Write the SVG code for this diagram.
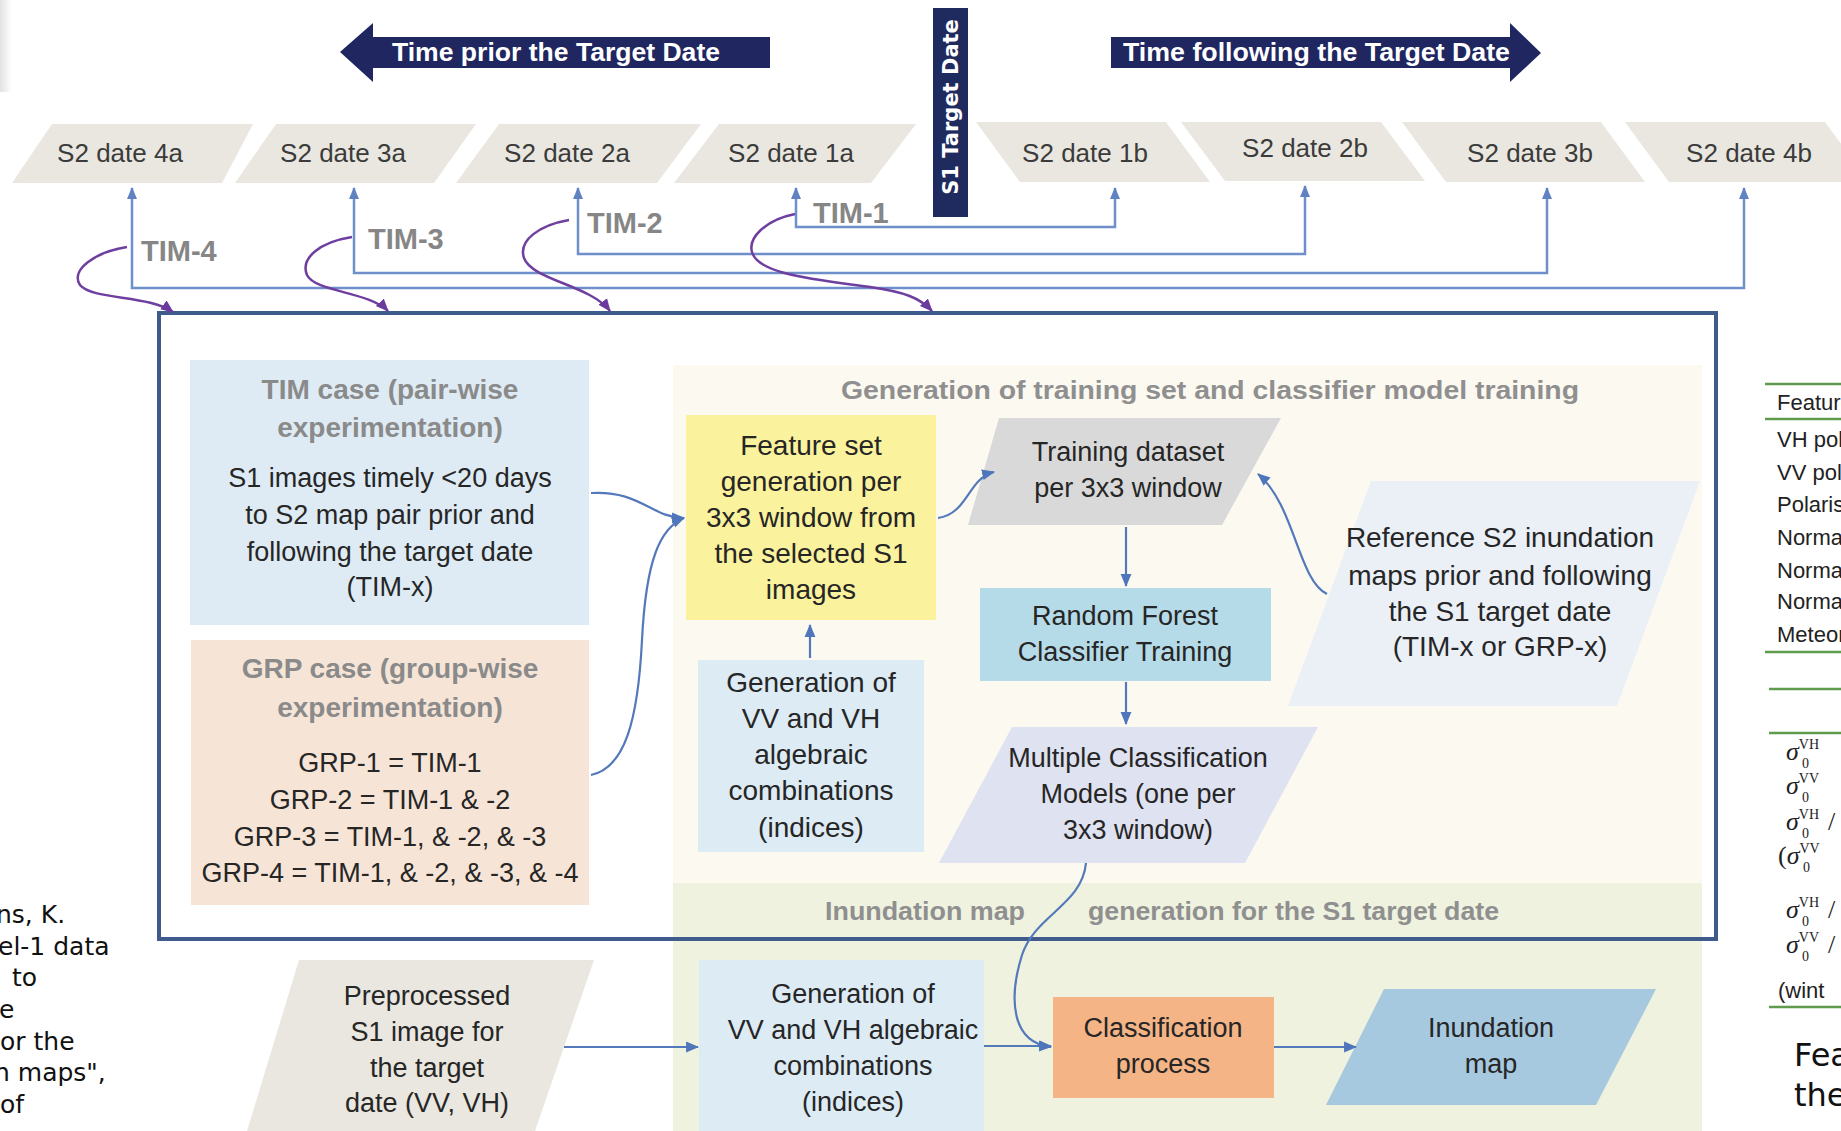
<svg xmlns="http://www.w3.org/2000/svg" width="1841" height="1131" viewBox="0 0 1841 1131">
<defs>
<style>
text{font-family:"Liberation Sans",Arial,sans-serif}
.s2{font-size:26px;fill:#3b3b3b;text-anchor:middle}
.tim{font-size:29px;font-weight:bold;fill:#868686}
.hd{font-size:28px;font-weight:bold;fill:#8a8a8a;text-anchor:middle}
.bd{font-size:27px;fill:#262626;text-anchor:middle}
.b28{font-size:28px}
.ar{font-size:26.5px;font-weight:bold;fill:#ffffff}
.rl{font-size:26.5px;font-weight:bold;fill:#8f8f8f}
.lt{font-family:"DejaVu Sans",Verdana,sans-serif;font-size:25px;fill:#111111}
.tb{font-size:22px;fill:#222222}
.sg{font-family:"Liberation Serif","Times New Roman",serif;font-size:26px;font-style:italic;fill:#222222}
.sp{font-size:14px;font-style:normal}
.nr{font-style:normal}
.br{fill:none;stroke:#6e8fca;stroke-width:2.5}
.pu{fill:none;stroke:#6f3f9f;stroke-width:2.5}
.fl{fill:none;stroke:#5479bb;stroke-width:2.2}
.gl{stroke:#5e9b4c;stroke-width:2.5}
</style>
<marker id="mB" markerUnits="userSpaceOnUse" markerWidth="12" markerHeight="12" viewBox="0 0 12 12" refX="11" refY="6" orient="auto-start-reverse"><path d="M0,1 L12,6 L0,11 z" fill="#5f82c2"/></marker>
<marker id="mP" markerUnits="userSpaceOnUse" markerWidth="13" markerHeight="13" viewBox="0 0 12 12" refX="11" refY="6" orient="auto"><path d="M0,1 L12,6 L0,11 z" fill="#6a3a9c"/></marker>
<marker id="mF" markerUnits="userSpaceOnUse" markerWidth="13" markerHeight="13" viewBox="0 0 12 12" refX="11" refY="6" orient="auto"><path d="M0,1 L12,6 L0,11 z" fill="#4f76bb"/></marker>
<linearGradient id="shade" x1="0" y1="0" x2="1" y2="0"><stop offset="0" stop-color="#e2e2e2"/><stop offset="1" stop-color="#ffffff"/></linearGradient>
</defs>
<rect width="1841" height="1131" fill="#ffffff"/>
<rect x="0" y="0" width="12" height="92" fill="url(#shade)"/>

<!-- background regions -->
<g id="region-training">
<rect x="673" y="365" width="1029" height="518" fill="#fcf9f1"/>
<text class="rl" x="841" y="399" textLength="738" lengthAdjust="spacingAndGlyphs">Generation of training set and classifier model training</text>
</g>
<g id="region-inundation">
<rect x="673" y="883" width="1029" height="248" fill="#eef2df"/>
<text class="rl" x="825" y="920" textLength="200" lengthAdjust="spacingAndGlyphs">Inundation  map</text>
<text class="rl" x="1088" y="920" textLength="411" lengthAdjust="spacingAndGlyphs">generation for the S1 target date</text>
</g>

<!-- time arrows -->
<g id="arrow-prior">
<polygon points="340,52 373,23 373,37 770,37 770,68 373,68 373,82" fill="#1f2660"/>
<text class="ar" x="392" y="61" textLength="328" lengthAdjust="spacingAndGlyphs">Time prior the Target Date</text>
</g>
<g id="arrow-following">
<polygon points="1111,37 1510,37 1510,23 1541,53 1510,82 1510,68 1111,68" fill="#1f2660"/>
<text class="ar" x="1123" y="61" textLength="387" lengthAdjust="spacingAndGlyphs">Time following the Target Date</text>
</g>
<g id="s1-target-date">
<rect x="933" y="8" width="35" height="209" fill="#1f2a5e"/>
<text transform="translate(958,107) rotate(-90)" text-anchor="middle" style="font-family:'DejaVu Sans',Verdana,sans-serif;font-size:21px;font-weight:bold;fill:#ffffff">S1 Target Date</text>
</g>

<!-- S2 dates -->
<g id="s2-4a"><polygon points="52,124 253,124 222,183 12,183" fill="#e9e7df"/><text class="s2" x="120" y="162">S2 date 4a</text></g>
<g id="s2-3a"><polygon points="276,124 476,124 434,183 235,183" fill="#e9e7df"/><text class="s2" x="343" y="162">S2 date 3a</text></g>
<g id="s2-2a"><polygon points="499,124 701,124 657,183 456,183" fill="#e9e7df"/><text class="s2" x="567" y="162">S2 date 2a</text></g>
<g id="s2-1a"><polygon points="719,124 916,124 871,183 674,183" fill="#e9e7df"/><text class="s2" x="791" y="162">S2 date 1a</text></g>
<g id="s2-1b"><polygon points="976,122 1166,122 1210,182 1020,182" fill="#e9e7df"/><text class="s2" x="1085" y="162">S2 date 1b</text></g>
<g id="s2-2b"><polygon points="1181,122 1381,122 1425,181 1225,181" fill="#e9e7df"/><text class="s2" x="1305" y="157">S2 date 2b</text></g>
<g id="s2-3b"><polygon points="1402,122 1601,122 1645,182 1446,182" fill="#e9e7df"/><text class="s2" x="1530" y="162">S2 date 3b</text></g>
<g id="s2-4b"><polygon points="1625,122 1825,122 1869,182 1669,182" fill="#e9e7df"/><text class="s2" x="1749" y="162">S2 date 4b</text></g>

<!-- TIM labels -->
<g id="tim-labels">
<text class="tim" x="141" y="261">TIM-4</text>
<text class="tim" x="368" y="249">TIM-3</text>
<text class="tim" x="587" y="233">TIM-2</text>
<text class="tim" x="813" y="223">TIM-1</text>
</g>

<!-- nodes in main box -->
<g id="tim-case">
<rect x="190" y="360" width="399" height="265" fill="#deebf4"/>
<text class="hd" x="390" y="399">TIM case (pair-wise</text>
<text class="hd" x="390" y="437">experimentation)</text>
<text class="bd" x="390" y="487">S1 images timely &lt;20 days</text>
<text class="bd" x="390" y="524">to S2 map pair prior and</text>
<text class="bd" x="390" y="561">following the target date</text>
<text class="bd" x="390" y="596">(TIM-x)</text>
</g>
<g id="grp-case">
<rect x="191" y="640" width="398" height="265" fill="#f6e5d7"/>
<text class="hd" x="390" y="678">GRP case (group-wise</text>
<text class="hd" x="390" y="717">experimentation)</text>
<text class="bd" x="390" y="772">GRP-1 = TIM-1</text>
<text class="bd" x="390" y="809">GRP-2 = TIM-1 &amp; -2</text>
<text class="bd" x="390" y="846">GRP-3 = TIM-1, &amp; -2, &amp; -3</text>
<text class="bd" x="390" y="882">GRP-4 = TIM-1, &amp; -2, &amp; -3, &amp; -4</text>
</g>
<g id="feature-set">
<rect x="686" y="415" width="250" height="205" fill="#faf29d"/>
<text class="bd b28" x="811" y="455">Feature set</text>
<text class="bd b28" x="811" y="491">generation per</text>
<text class="bd b28" x="811" y="527">3x3 window from</text>
<text class="bd b28" x="811" y="563">the selected S1</text>
<text class="bd b28" x="811" y="599">images</text>
</g>
<g id="indices-train">
<rect x="698" y="660" width="226" height="192" fill="#ddebf4"/>
<text class="bd b28" x="811" y="692">Generation of</text>
<text class="bd b28" x="811" y="728">VV and VH</text>
<text class="bd b28" x="811" y="764">algebraic</text>
<text class="bd b28" x="811" y="800">combinations</text>
<text class="bd b28" x="811" y="837">(indices)</text>
</g>
<g id="training-dataset">
<polygon points="999,418 1281,418 1222,525 968,525" fill="#d9d9d9"/>
<text class="bd" x="1128" y="461">Training dataset</text>
<text class="bd" x="1128" y="497">per 3x3 window</text>
</g>
<g id="random-forest">
<rect x="980" y="588" width="291" height="93" fill="#b6dbe8"/>
<text class="bd" x="1125" y="625">Random Forest</text>
<text class="bd" x="1125" y="661">Classifier Training</text>
</g>
<g id="multiple-models">
<polygon points="1012,727 1318,727 1245,863 939,863" fill="#dfe2f1"/>
<text class="bd" x="1138" y="767">Multiple Classification</text>
<text class="bd" x="1138" y="803">Models (one per</text>
<text class="bd" x="1138" y="839">3x3 window)</text>
</g>
<g id="reference-s2">
<polygon points="1371,481 1700,481 1617,706 1288,706" fill="#eaf0f6"/>
<text class="bd b28" x="1500" y="547">Reference S2 inundation</text>
<text class="bd b28" x="1500" y="585">maps prior and following</text>
<text class="bd b28" x="1500" y="621">the S1 target date</text>
<text class="bd b28" x="1500" y="656">(TIM-x or GRP-x)</text>
</g>

<!-- bottom row -->
<g id="preprocessed-s1">
<polygon points="299,960 594,960 535,1131 247,1131" fill="#e9e7df"/>
<text class="bd" x="427" y="1005">Preprocessed</text>
<text class="bd" x="427" y="1041">S1 image for</text>
<text class="bd" x="427" y="1077">the target</text>
<text class="bd" x="427" y="1112">date (VV, VH)</text>
</g>
<g id="indices-map">
<rect x="699" y="960" width="285" height="171" fill="#ddebf5"/>
<text class="bd" x="853" y="1003">Generation of</text>
<text class="bd" x="853" y="1039">VV and VH algebraic</text>
<text class="bd" x="853" y="1075">combinations</text>
<text class="bd" x="853" y="1111">(indices)</text>
</g>
<g id="classification-process">
<rect x="1053" y="997" width="221" height="101" fill="#f4b486"/>
<text class="bd" x="1163" y="1037">Classification</text>
<text class="bd" x="1163" y="1073">process</text>
</g>
<g id="inundation-map">
<polygon points="1384,989 1656,989 1596,1105 1326,1105" fill="#a6c9e0"/>
<text class="bd" x="1491" y="1037">Inundation</text>
<text class="bd" x="1491" y="1073">map</text>
</g>

<!-- main frame -->
<g id="experiment-frame">
<rect x="159" y="313" width="1557" height="626" fill="none" stroke="#3f5b8b" stroke-width="4"/>
</g>

<!-- connectors -->
<g id="connectors">
<path class="br" d="M796 188 V227 H1115 V188" marker-start="url(#mB)" marker-end="url(#mB)"/>
<path class="br" d="M578 188 V254 H1305 V186" marker-start="url(#mB)" marker-end="url(#mB)"/>
<path class="br" d="M354 188 V273 H1547 V188" marker-start="url(#mB)" marker-end="url(#mB)"/>
<path class="br" d="M132 188 V288 H1744 V188" marker-start="url(#mB)" marker-end="url(#mB)"/>
<path class="pu" d="M127 247 C95 252 70 270 80 285 C92 300 150 295 173 312" marker-end="url(#mP)"/>
<path class="pu" d="M352 237 C320 242 300 258 307 275 C315 292 370 292 388 311" marker-end="url(#mP)"/>
<path class="pu" d="M569 220 C540 225 518 240 524 258 C532 280 590 285 610 311" marker-end="url(#mP)"/>
<path class="pu" d="M795 214 C765 220 748 238 752 252 C758 275 820 280 870 287 C905 292 920 298 932 311" marker-end="url(#mP)"/>
<path class="fl" d="M591 493 C640 490 652 518 684 518" marker-end="url(#mF)"/>
<path class="fl" d="M591 775 C625 768 638 720 642 640 C646 560 660 528 684 518" marker-end="url(#mF)"/>
<path class="fl" d="M810 658 V625" marker-end="url(#mF)"/>
<path class="fl" d="M938 518 C968 514 968 478 994 472" marker-end="url(#mF)"/>
<path class="fl" d="M1126 527 V586" marker-end="url(#mF)"/>
<path class="fl" d="M1126 682 V724" marker-end="url(#mF)"/>
<path class="fl" d="M1327 594 C1298 580 1295 505 1258 474" marker-end="url(#mF)"/>
<path class="fl" d="M1086 863 C1082 905 1035 915 1022 955 C1008 1000 1012 1043 1051 1047" marker-end="url(#mF)"/>
<path class="fl" d="M564 1047 H698" marker-end="url(#mF)"/>
<path class="fl" d="M984 1046 H1051" marker-end="url(#mF)"/>
<path class="fl" d="M1274 1047 H1356" marker-end="url(#mF)"/>
</g>

<!-- cropped neighbouring content -->
<g id="left-caption">
<text class="lt" x="-4" y="923">ns, K.</text>
<text class="lt" x="-2" y="955">el-1 data</text>
<text class="lt" x="12" y="986">to</text>
<text class="lt" x="-1" y="1018">e</text>
<text class="lt" x="0" y="1050">or the</text>
<text class="lt" x="-6" y="1081">n maps",</text>
<text class="lt" x="0" y="1113">of</text>
</g>
<g id="right-table">
<line class="gl" x1="1765" y1="384" x2="1841" y2="384"/>
<line class="gl" x1="1765" y1="419" x2="1841" y2="419"/>
<line class="gl" x1="1765" y1="652" x2="1841" y2="652" stroke-width="3"/>
<line class="gl" x1="1769" y1="689" x2="1841" y2="689"/>
<line class="gl" x1="1769" y1="733" x2="1841" y2="733"/>
<line class="gl" x1="1769" y1="1007" x2="1841" y2="1007" stroke-width="3"/>
<text class="tb" x="1777" y="410">Feature</text>
<text class="tb" x="1777" y="447">VH pol</text>
<text class="tb" x="1777" y="480">VV pol</text>
<text class="tb" x="1777" y="512">Polaris</text>
<text class="tb" x="1777" y="545">Normal</text>
<text class="tb" x="1777" y="578">Normal</text>
<text class="tb" x="1777" y="609">Normal</text>
<text class="tb" x="1777" y="642">Meteor</text>
<text class="sg" x="1786" y="760">σ<tspan class="sp" dy="-11">VH</tspan><tspan class="sp" x="1802" dy="19">0</tspan></text>
<text class="sg" x="1786" y="794">σ<tspan class="sp" dy="-11">VV</tspan><tspan class="sp" x="1802" dy="19">0</tspan></text>
<text class="sg" x="1786" y="830">σ<tspan class="sp" dy="-11">VH</tspan><tspan class="sp" x="1802" dy="19">0</tspan><tspan class="nr" x="1828" dy="-8">/</tspan></text>
<text class="sg" x="1778" y="864"><tspan class="nr">(</tspan>σ<tspan class="sp" dy="-11">VV</tspan><tspan class="sp" x="1803" dy="19">0</tspan></text>
<text class="sg" x="1786" y="918">σ<tspan class="sp" dy="-11">VH</tspan><tspan class="sp" x="1802" dy="19">0</tspan><tspan class="nr" x="1828" dy="-8">/</tspan></text>
<text class="sg" x="1786" y="953">σ<tspan class="sp" dy="-11">VV</tspan><tspan class="sp" x="1802" dy="19">0</tspan><tspan class="nr" x="1828" dy="-8">/</tspan></text>
<text class="tb" x="1778" y="998">(wint</text>
<text class="lt" x="1794" y="1066" style="font-size:32px">Fea</text>
<text class="lt" x="1794" y="1106" style="font-size:32px">the</text>
</g>
</svg>
